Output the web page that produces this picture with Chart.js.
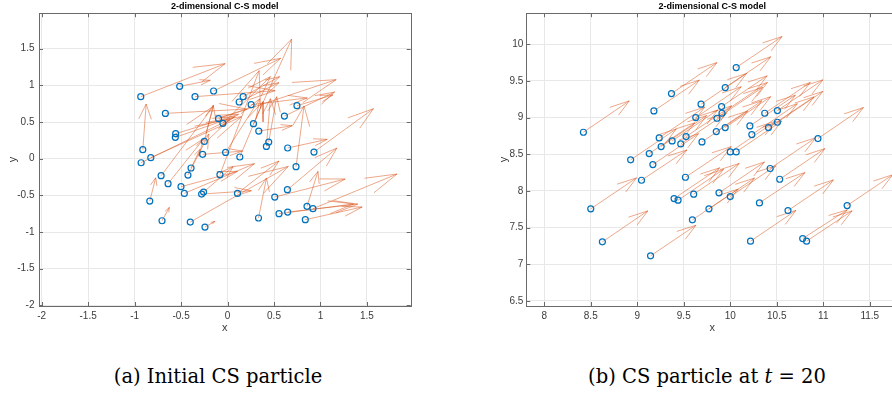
<!DOCTYPE html>
<html>
<head>
<meta charset="utf-8">
<script src="https://cdn.jsdelivr.net/npm/chart.js@4.4.1/dist/chart.umd.min.js"></script>
<style>
  html, body { margin: 0; padding: 0; background: #fff; }
  body { width: 892px; height: 394px; overflow: hidden; position: relative; }
  .panel { position: absolute; top: 0; height: 340px; }
  #left-panel { left: 0; width: 446px; }
  #right-panel { left: 446px; width: 460px; }
  .caption {
    position: absolute; top: 364px; line-height: 26px;
    font-family: "DejaVu Serif", "Liberation Serif", serif; font-size: 19.5px;
    color: #000; white-space: nowrap; transform: translateX(-50%);
  }
</style>
</head>
<body>
<div class="panel" id="left-panel"><canvas id="chart-initial" width="446" height="340"></canvas></div>
<div class="panel" id="right-panel"><canvas id="chart-t20" width="460" height="340"></canvas></div>
<div class="caption" style="left:218px">(a) Initial CS particle</div>
<div class="caption" style="left:707px">(b) CS particle at <i>t</i> = 20</div>

<script>
// particelle iniziali (posizione e velocità)
const initX = [-0.934, -0.515, -0.150, -0.350, 0.168, 0.125, 0.254, -0.669, 0.747, 0.612,
               -0.097, -0.050, 0.279, -0.558, -0.562, 0.336, -0.250, 0.443, 0.418, 0.647,
               -0.912, -0.826, -0.930, -0.268, -0.021, 0.132, 0.930, -0.393, 0.737, -0.715,
               -0.426, -0.082, -0.640, -0.501, 0.644, -0.465, -0.258, -0.279, 0.107, 0.508,
               -0.837, 0.855, 0.919, 0.554, 0.647, 0.333, 0.837, -0.705, -0.401, -0.243];
const initY = [0.846, 0.987, 0.923, 0.846, 0.846, 0.773, 0.737, 0.618, 0.723, 0.582,
               0.546, 0.482, 0.477, 0.341, 0.291, 0.377, 0.236, 0.227, 0.168, 0.146,
               0.123, 0.014, -0.055, 0.059, 0.086, 0.023, 0.091, -0.127, -0.109, -0.232,
               -0.223, -0.218, -0.341, -0.382, -0.423, -0.473, -0.455, -0.482, -0.473, -0.523,
               -0.578, -0.650, -0.682, -0.750, -0.728, -0.809, -0.832, -0.846, -0.864, -0.932];
const initU = [0.908, 0.329, 0.722, 0.862, 0.393, 0.429, 0.604, 0.873, 0.386, 0.540,
               1.266, 0.511, 0.411, 0.676, 0.640, 0.361, 0.097, 0.086, 0.043, 0.426,
               0.036, 0.976, 0.955, 0.429, 0.368, 0.250, 0.640, 0.097, 0.086, 0.565,
               0.225, 0.422, 0.386, 0.608, 0.533, 0.755, 0.318, 0.536, 0.447, 0.758,
               0.064, 0.118, 0.905, 0.801, 0.755, 0.086, 0.612, 0.079, 1.055, 0.107];
const initV = [0.450, 0.082, 0.446, 0.082, 0.273, 0.264, 0.091, 0.059, 0.146, 0.327,
               0.532, 0.637, 1.155, 0.264, 0.282, 0.073, 0.496, 0.618, 0.650, 0.118,
               0.623, 0.559, 0.591, 0.045, 0.732, 0.755, 0.591, 0.255, 0.828, 0.950,
               0.559, 1.419, 0.618, 0.209, 0.568, 0.405, 0.346, 0.045, 0.441, 0.246,
               0.318, 0.477, 0.473, 0.132, 0.109, 0.546, 0.173, 0.182, 0.759, 0.077];

// particelle a t = 20
const t20X = [8.421, 9.368, 9.179, 8.929, 8.500, 8.625, 9.143, 9.046, 9.129, 9.168,
              9.236, 9.257, 9.375, 9.468, 9.525, 9.629, 9.686, 9.696, 9.518, 9.396,
              9.439, 9.607, 9.593, 9.771, 9.879, 10.000, 9.850, 9.857, 9.911, 9.907,
              9.946, 9.946, 10.000, 10.064, 10.064, 10.211, 10.232, 10.371, 10.411, 10.507,
              10.507, 10.429, 10.532, 10.314, 10.621, 10.218, 10.779, 10.821, 10.943, 11.257];
const t20Y = [8.800, 9.327, 9.091, 8.423, 7.755, 7.305, 7.114, 8.145, 8.509, 8.359,
              8.723, 8.605, 8.682, 8.641, 8.741, 9.000, 9.182, 8.668, 8.186, 7.895,
              7.873, 7.955, 7.605, 7.755, 7.973, 7.923, 8.809, 8.991, 9.059, 9.150,
              9.409, 8.864, 8.532, 8.532, 9.682, 8.886, 8.768, 9.059, 8.864, 9.095,
              8.936, 8.305, 8.159, 7.836, 7.732, 7.314, 7.350, 7.314, 8.714, 7.800];
const t20U = [0.493, 0.489, 0.489, 0.490, 0.493, 0.489, 0.489, 0.489, 0.490, 0.491,
              0.490, 0.489, 0.490, 0.491, 0.490, 0.489, 0.490, 0.491, 0.493, 0.490,
              0.489, 0.490, 0.491, 0.490, 0.489, 0.490, 0.490, 0.491, 0.489, 0.490,
              0.490, 0.489, 0.491, 0.490, 0.493, 0.490, 0.489, 0.490, 0.491, 0.490,
              0.489, 0.490, 0.486, 0.489, 0.489, 0.489, 0.479, 0.489, 0.489, 0.490];
const t20V = [0.427, 0.423, 0.420, 0.421, 0.423, 0.423, 0.418, 0.414, 0.420, 0.421,
              0.420, 0.422, 0.421, 0.420, 0.419, 0.421, 0.420, 0.421, 0.418, 0.420,
              0.421, 0.420, 0.419, 0.420, 0.421, 0.420, 0.420, 0.421, 0.420, 0.419,
              0.420, 0.421, 0.420, 0.421, 0.423, 0.420, 0.421, 0.420, 0.419, 0.420,
              0.421, 0.420, 0.418, 0.414, 0.418, 0.420, 0.391, 0.414, 0.423, 0.420];

const initXTicks = [-2, -1.5, -1, -0.5, 0, 0.5, 1, 1.5];
const initYTicks = [-2, -1.5, -1, -0.5, 0, 0.5, 1, 1.5];
const t20XTicks = [8, 8.5, 9, 9.5, 10, 10.5, 11, 11.5];
const t20YTicks = [6.5, 7, 7.5, 8, 8.5, 9, 9.5, 10];

const TITLE_TEXT = '2-dimensional C-S model';

const BLUE = '#0072BD';
const ORANGE = 'rgba(217, 83, 25, 0.85)';
const GRID = '#e8e8e8';
const AXIS = '#6a6a6a';
const TICK_LEN = 4;
// parametri della punta (come quiver di MATLAB)
const HEAD_A = 0.33;
const HEAD_B = 0.33;

function quiverPoints(px, py, pu, pv) {
    const pts = [];
    for (let i = 0; i < px.length; i++) {
        const tx = px[i] + pu[i];
        const ty = py[i] + pv[i];
        pts.push({x: px[i], y: py[i]}, {x: tx, y: ty}, {x: tx, y: null});
        pts.push({x: tx - HEAD_A * (pu[i] + HEAD_B * pv[i]), y: ty - HEAD_A * (pv[i] - HEAD_B * pu[i])});
        pts.push({x: tx, y: ty});
        pts.push({x: tx - HEAD_A * (pu[i] - HEAD_B * pv[i]), y: ty - HEAD_A * (pv[i] + HEAD_B * pu[i])});
        pts.push({x: tx, y: null});
    }
    return pts;
}

// bordo e tacche interne stile MATLAB
const matlabBox = {
    id: 'matlabBox',
    afterDatasetsDraw(chart) {
        const {ctx, chartArea: a, scales} = chart;
        ctx.save();
        ctx.strokeStyle = AXIS;
        ctx.lineWidth = 1;
        ctx.beginPath();
        scales.x.ticks.forEach(t => {
            const p = Math.round(scales.x.getPixelForValue(t.value)) + 0.5;
            ctx.moveTo(p, a.bottom); ctx.lineTo(p, a.bottom - TICK_LEN);
            ctx.moveTo(p, a.top); ctx.lineTo(p, a.top + TICK_LEN);
        });
        scales.y.ticks.forEach(t => {
            const p = Math.round(scales.y.getPixelForValue(t.value)) + 0.5;
            ctx.moveTo(a.left, p); ctx.lineTo(a.left + TICK_LEN, p);
            ctx.moveTo(a.right, p); ctx.lineTo(a.right - TICK_LEN, p);
        });
        ctx.stroke();
        ctx.strokeRect(Math.round(a.left) + 0.5, Math.round(a.top) + 0.5,
                       Math.round(a.right - a.left), Math.round(a.bottom - a.top));
        ctx.restore();
    }
};

function buildChart(canvasId, px, py, pu, pv, xTicks, yTicks, xRange, yRange, yAxisWidth, padRight, yTitlePad, yTickPad) {
    const tickFont = {family: '"Liberation Sans", Arial, sans-serif', size: 10};
    const labelFont = {family: '"Liberation Sans", Arial, sans-serif', size: 11};
    return new Chart(document.getElementById(canvasId), {
        type: 'scatter',
        data: {
            datasets: [{
                label: 'particelle',
                data: px.map((x, i) => ({x: x, y: py[i]})),
                pointStyle: 'circle',
                pointRadius: 3,
                pointBorderWidth: 1.2,
                pointBorderColor: BLUE,
                pointBackgroundColor: 'rgba(255,255,255,0)',
                showLine: false
            }, {
                label: 'velocità',
                data: quiverPoints(px, py, pu, pv),
                showLine: true,
                spanGaps: false,
                borderColor: ORANGE,
                borderWidth: 0.6,
                pointRadius: 0,
                tension: 0
            }]
        },
        options: {
            responsive: false,
            animation: false,
            layout: {padding: {left: 0, top: 0, right: padRight, bottom: 0}},
            plugins: {
                legend: {display: false},
                tooltip: {enabled: false},
                title: {
                    display: true,
                    text: TITLE_TEXT,
                    fullSize: false,
                    color: '#000',
                    font: {family: '"Liberation Sans", Arial, sans-serif', size: 9, weight: 'bold', lineHeight: 1.47},
                    padding: {top: 0, bottom: 0}
                }
            },
            scales: {
                x: {
                    type: 'linear',
                    min: xRange[0],
                    max: xRange[1],
                    afterBuildTicks: s => { s.ticks = xTicks.map(v => ({value: v})); },
                    afterFit: s => { s.height = 34; },
                    grid: {color: GRID, drawTicks: false},
                    border: {display: false},
                    ticks: {font: tickFont, color: '#3c3c3c', padding: 4, autoSkip: false, maxRotation: 0,
                            callback: v => String(v)},
                    title: {display: true, text: 'x', font: labelFont, color: '#3c3c3c', padding: {top: 0, bottom: 5.7}}
                },
                y: {
                    type: 'linear',
                    min: yRange[0],
                    max: yRange[1],
                    afterBuildTicks: s => { s.ticks = yTicks.map(v => ({value: v})); },
                    afterFit: s => { s.width = yAxisWidth; },
                    grid: {color: GRID, drawTicks: false},
                    border: {display: false},
                    ticks: {font: tickFont, color: '#3c3c3c', padding: yTickPad, autoSkip: false,
                            callback: v => String(v)},
                    title: {display: true, text: 'y', font: labelFont, color: '#3c3c3c', padding: {top: yTitlePad, bottom: 0}}
                }
            }
        },
        plugins: [matlabBox]
    });
}

buildChart('chart-initial', initX, initY, initU, initV, initXTicks, initYTicks,
           [-2.029, 1.971], [-2.009, 1.984], 39, 35.3, 6.7, 4.5);
buildChart('chart-t20', t20X, t20Y, t20U, t20V, t20XTicks, t20YTicks,
           [7.807, 11.807], [6.43, 10.423], 80.3, 7.7, 51.7, 3);
</script>
</body>
</html>
